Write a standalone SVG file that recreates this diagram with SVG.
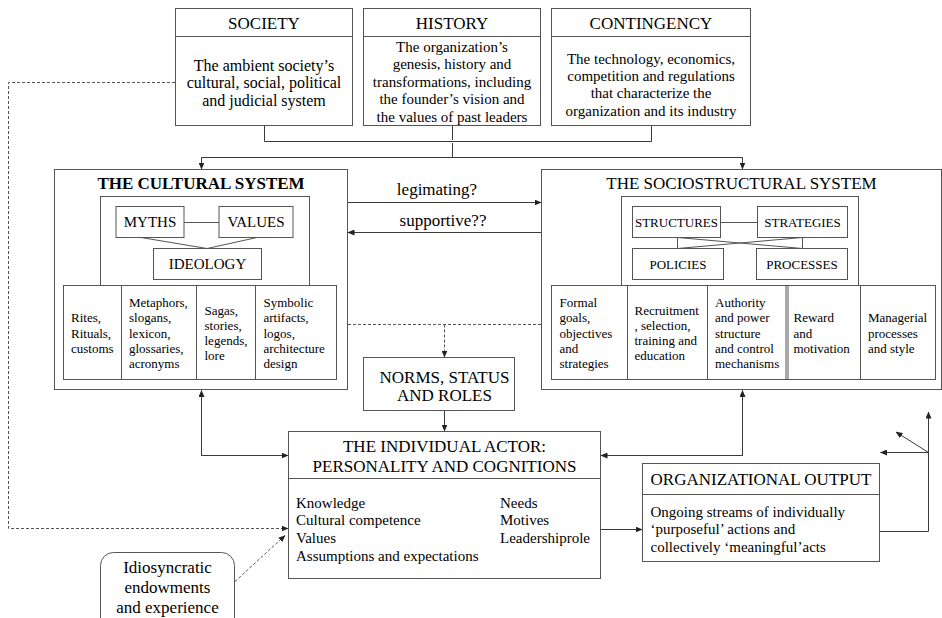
<svg xmlns="http://www.w3.org/2000/svg" width="942" height="618" viewBox="0 0 942 618" font-family="'Liberation Serif', 'DejaVu Serif', 'Times New Roman', serif">
  <style>
    text { font-family: "Liberation Serif", "DejaVu Serif", "Times New Roman", serif; fill: #000; }
    .box { fill: #fff; stroke: #555; stroke-width: 1; }
    .frame { fill: none; stroke: #555; stroke-width: 1; }
    .ln { fill: none; stroke: #3a3a3a; stroke-width: 1; }
    .dash { fill: none; stroke: #555; stroke-width: 1; stroke-dasharray: 3 2; }
    .arr { marker-end: url(#head); }
    .t17 { font-size: 17px; }
    .t16 { font-size: 16px; }
    .t15 { font-size: 15px; }
    .t13 { font-size: 13px; }
    .mid { text-anchor: middle; }
    .bold { font-weight: bold; }
  </style>
  <defs>
    <marker id="head" markerWidth="7" markerHeight="6" refX="6.5" refY="3" orient="auto" markerUnits="userSpaceOnUse">
      <path d="M0,0 L7,3 L0,6 Z" fill="#222"/>
    </marker>
  </defs>
  <rect width="942" height="618" fill="#fff"/>

  <!-- Context boxes -->
  <g id="society">
    <rect class="box" x="175.5" y="8.5" width="177" height="117"/>
    <line class="frame" x1="175.5" y1="36.5" x2="352.5" y2="36.5"/>
    <text class="t17 mid" x="264" y="28.5">SOCIETY</text>
    <text class="t16 mid" x="264" y="70.5">The ambient society’s</text>
    <text class="t16 mid" x="264" y="88">cultural, social, political</text>
    <text class="t16 mid" x="264" y="105.5">and judicial system</text>
  </g>
  <g id="history">
    <rect class="box" x="363.5" y="8.5" width="177" height="117"/>
    <line class="frame" x1="363.5" y1="36.5" x2="540.5" y2="36.5"/>
    <text class="t17 mid" x="452" y="28.5">HISTORY</text>
    <text class="t15 mid" x="452" y="52">The organization’s</text>
    <text class="t15 mid" x="452" y="69.4">genesis, history and</text>
    <text class="t15 mid" x="452" y="86.8">transformations, including</text>
    <text class="t15 mid" x="452" y="104.2">the founder’s vision and</text>
    <text class="t15 mid" x="452" y="121.6">the values of past leaders</text>
  </g>
  <g id="contingency">
    <rect class="box" x="551.5" y="8.5" width="199" height="117"/>
    <line class="frame" x1="551.5" y1="36.5" x2="750.5" y2="36.5"/>
    <text class="t17 mid" x="651" y="28.5">CONTINGENCY</text>
    <text class="t15 mid" x="651" y="63.5">The technology, economics,</text>
    <text class="t15 mid" x="651" y="80.9">competition and regulations</text>
    <text class="t15 mid" x="651" y="98.3">that characterize the</text>
    <text class="t15 mid" x="651" y="115.7">organization and its industry</text>
  </g>

  <!-- Cultural system -->
  <g id="cultural-system">
    <rect class="box" x="54.5" y="169.5" width="293" height="220"/>
    <text class="t17 mid bold" x="201" y="189">THE CULTURAL SYSTEM</text>
    <rect class="frame" x="100.5" y="196.5" width="209" height="89"/>
    <rect class="box" x="116" y="206.5" width="68" height="31"/>
    <text class="t15 mid" x="150" y="227">MYTHS</text>
    <rect class="box" x="219" y="206.5" width="74" height="31"/>
    <text class="t15 mid" x="256" y="227">VALUES</text>
    <line class="frame" x1="184" y1="222.5" x2="219" y2="222.5"/>
    <polyline class="frame" points="141,237.5 207,248.5 257,237.5"/>
    <rect class="box" x="153.5" y="248.5" width="108" height="31"/>
    <text class="t15 mid" x="207.5" y="269">IDEOLOGY</text>
    <rect class="box" x="63.5" y="285.5" width="273" height="94"/>
    <line class="frame" x1="121.5" y1="285.5" x2="121.5" y2="379.5"/>
    <line class="frame" x1="196.5" y1="285.5" x2="196.5" y2="379.5"/>
    <line class="frame" x1="255.5" y1="285.5" x2="255.5" y2="379.5"/>
    <text class="t13" x="71" y="322.3">Rites,</text>
    <text class="t13" x="71" y="337.6">Rituals,</text>
    <text class="t13" x="71" y="352.9">customs</text>
    <text class="t13" x="129" y="307">Metaphors,</text>
    <text class="t13" x="129" y="322.3">slogans,</text>
    <text class="t13" x="129" y="337.6">lexicon,</text>
    <text class="t13" x="129" y="352.9">glossaries,</text>
    <text class="t13" x="129" y="368.2">acronyms</text>
    <text class="t13" x="204.5" y="314.5">Sagas,</text>
    <text class="t13" x="204.5" y="329.8">stories,</text>
    <text class="t13" x="204.5" y="345.1">legends,</text>
    <text class="t13" x="204.5" y="360.4">lore</text>
    <text class="t13" x="263.5" y="307">Symbolic</text>
    <text class="t13" x="263.5" y="322.3">artifacts,</text>
    <text class="t13" x="263.5" y="337.6">logos,</text>
    <text class="t13" x="263.5" y="352.9">architecture</text>
    <text class="t13" x="263.5" y="368.2">design</text>
  </g>

  <!-- Sociostructural system -->
  <g id="sociostructural-system">
    <rect class="box" x="541.5" y="169.5" width="400" height="220"/>
    <text class="t17 mid" x="741.5" y="189">THE SOCIOSTRUCTURAL SYSTEM</text>
    <rect class="frame" x="621.5" y="196.5" width="237" height="89"/>
    <rect class="box" x="632.5" y="206.5" width="88" height="31"/>
    <text class="t13 mid" x="676.5" y="226.5">STRUCTURES</text>
    <rect class="box" x="757.5" y="206.5" width="90" height="31"/>
    <text class="t13 mid" x="802.5" y="226.5">STRATEGIES</text>
    <line class="frame" x1="720.5" y1="222.5" x2="757.5" y2="222.5"/>
    <polygon class="frame" points="677.5,237.5 802.5,248.5 802.5,237.5 677.5,248.5"/>
    <rect class="box" x="632.5" y="248.5" width="91" height="31"/>
    <text class="t13 mid" x="678" y="268.5">POLICIES</text>
    <rect class="box" x="756.5" y="248.5" width="91" height="31"/>
    <text class="t13 mid" x="802" y="268.5">PROCESSES</text>
    <rect class="box" x="551.5" y="285.5" width="384" height="94"/>
    <line class="frame" x1="627.5" y1="285.5" x2="627.5" y2="379.5"/>
    <line class="frame" x1="707.5" y1="285.5" x2="707.5" y2="379.5"/>
    <line class="frame" x1="786" y1="285.5" x2="786" y2="379.5"/>
    <line class="frame" x1="788" y1="285.5" x2="788" y2="379.5"/>
    <line class="frame" x1="860.5" y1="285.5" x2="860.5" y2="379.5"/>
    <text class="t13" x="559.5" y="307">Formal</text>
    <text class="t13" x="559.5" y="322.3">goals,</text>
    <text class="t13" x="559.5" y="337.6">objectives</text>
    <text class="t13" x="559.5" y="352.9">and</text>
    <text class="t13" x="559.5" y="368.2">strategies</text>
    <text class="t13" x="634.5" y="314.5">Recruitment</text>
    <text class="t13" x="634.5" y="329.8">, selection,</text>
    <text class="t13" x="634.5" y="345.1">training and</text>
    <text class="t13" x="634.5" y="360.4">education</text>
    <text class="t13" x="715" y="307">Authority</text>
    <text class="t13" x="715" y="322.3">and power</text>
    <text class="t13" x="715" y="337.6">structure</text>
    <text class="t13" x="715" y="352.9">and control</text>
    <text class="t13" x="715" y="368.2">mechanisms</text>
    <text class="t13" x="793.5" y="322.3">Reward</text>
    <text class="t13" x="793.5" y="337.6">and</text>
    <text class="t13" x="793.5" y="352.9">motivation</text>
    <text class="t13" x="868" y="322.3">Managerial</text>
    <text class="t13" x="868" y="337.6">processes</text>
    <text class="t13" x="868" y="352.9">and style</text>
  </g>

  <g id="norms">
    <rect class="box" x="363.5" y="357.5" width="151" height="53"/>
    <text class="t17 mid" x="444.5" y="382.5">NORMS, STATUS</text>
    <text class="t17 mid" x="444.5" y="401">AND ROLES</text>
  </g>

  <g id="individual-actor">
    <rect class="box" x="288.5" y="431.5" width="312" height="147"/>
    <line class="frame" x1="288.5" y1="478.5" x2="600.5" y2="478.5"/>
    <text class="t17 mid" x="444.5" y="452">THE INDIVIDUAL ACTOR:</text>
    <text class="t17 mid" x="444.5" y="471.5">PERSONALITY AND COGNITIONS</text>
    <text class="t15" x="296" y="507.5">Knowledge</text>
    <text class="t15" x="296" y="525.2">Cultural competence</text>
    <text class="t15" x="296" y="542.9">Values</text>
    <text class="t15" x="296" y="560.6">Assumptions and expectations</text>
    <text class="t15" x="500" y="507.5">Needs</text>
    <text class="t15" x="500" y="525.2">Motives</text>
    <text class="t15" x="500" y="542.9">Leadershiprole</text>
  </g>

  <g id="organizational-output">
    <rect class="box" x="642.5" y="463.5" width="237" height="98"/>
    <line class="frame" x1="642.5" y1="494.5" x2="879.5" y2="494.5"/>
    <text class="t17 mid" x="761" y="485">ORGANIZATIONAL OUTPUT</text>
    <text class="t15" x="650.5" y="516.5">Ongoing streams of individually</text>
    <text class="t15" x="650.5" y="534">‘purposeful’ actions and</text>
    <text class="t15" x="650.5" y="551.5">collectively ‘meaningful’acts</text>
  </g>

  <g id="idiosyncratic-endowments">
    <rect class="box" x="100.5" y="552.5" width="134" height="80" rx="13" ry="13"/>
    <text class="t17 mid" x="167.5" y="573">Idiosyncratic</text>
    <text class="t17 mid" x="167.5" y="593">endowments</text>
    <text class="t17 mid" x="167.5" y="613">and experience</text>
  </g>

  <!-- Connectors -->
  <g id="connectors">
    <!-- context bracket feeding both systems -->
    <polyline class="ln" points="264.5,126 264.5,141.5 651.5,141.5 651.5,126"/>
    <line class="ln" x1="452.5" y1="126" x2="452.5" y2="140"/>
    <line class="ln" x1="452.5" y1="143" x2="452.5" y2="157.5"/>
    <line class="ln" x1="201.5" y1="157.5" x2="742.5" y2="157.5"/>
    <line class="ln arr" x1="201.5" y1="157.5" x2="201.5" y2="169"/>
    <line class="ln arr" x1="742.5" y1="157.5" x2="742.5" y2="169"/>

    <!-- between the two systems -->
    <line class="ln arr" x1="348" y1="202.5" x2="541" y2="202.5"/>
    <text class="t17 mid" x="437" y="195">legimating?</text>
    <line class="ln arr" x1="541" y1="232.5" x2="348" y2="232.5"/>
    <text class="t17 mid" x="443" y="226">supportive??</text>

    <!-- norms derived from both systems -->
    <line class="dash" x1="348" y1="324.5" x2="541" y2="324.5"/>
    <line class="dash arr" x1="444.5" y1="324.5" x2="444.5" y2="357"/>
    <line class="ln arr" x1="444.5" y1="411" x2="444.5" y2="431"/>

    <!-- systems and actor -->
    <polyline class="ln arr" points="288,455.5 201.5,455.5 201.5,390.5"/>
    <line class="ln arr" x1="201.5" y1="455.5" x2="288" y2="455.5"/>
    <polyline class="ln arr" points="601,455.5 742.5,455.5 742.5,390.5"/>
    <line class="ln arr" x1="742.5" y1="455.5" x2="601" y2="455.5"/>

    <!-- society and endowments into the actor -->
    <polyline class="dash arr" points="175,82.5 8.5,82.5 8.5,528.5 288,528.5"/>
    <line class="dash arr" x1="235" y1="581.5" x2="285" y2="535.5"/>

    <!-- actor to output, output feedback -->
    <line class="ln arr" x1="601" y1="529.5" x2="642" y2="529.5"/>
    <polyline class="ln arr" points="880,531.5 928.5,531.5 928.5,412"/>
    <line class="ln arr" x1="928.5" y1="452.5" x2="880.5" y2="452.5"/>
    <line class="ln arr" x1="928.5" y1="452.5" x2="896" y2="432"/>
  </g>
</svg>
